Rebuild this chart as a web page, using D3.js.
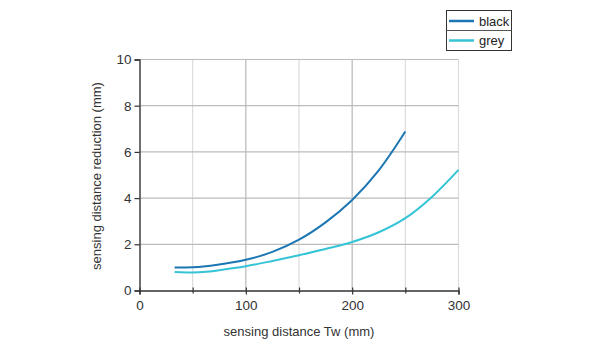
<!DOCTYPE html>
<html><head><meta charset="utf-8">
<script src="https://cdn.jsdelivr.net/npm/d3@7"></script>
<style>body{margin:0;background:#fff;font-family:"Liberation Sans",Arial,sans-serif;}</style>
</head><body>
<svg id="c" width="600" height="350"></svg>
<script>
const seriesNames = ["black", "grey"];
const seriesColors = ["#1b76b3", "#35c3d6"];
const blackX = [33, 50, 60, 75, 100, 125, 150, 175, 200, 225, 250];
const blackY = [1.0, 1.01, 1.04, 1.13, 1.33, 1.67, 2.2, 2.95, 3.92, 5.2, 6.88];
const greyX = [33, 50, 60, 75, 100, 125, 150, 175, 200, 225, 250, 275, 300];
const greyY = [0.8, 0.78, 0.8, 0.88, 1.05, 1.28, 1.53, 1.8, 2.1, 2.52, 3.13, 4.05, 5.22];
const xTicks = [0, 100, 200, 300];
const xMinorTicks = [50, 150, 250];
const yTicks = [0, 2, 4, 6, 8, 10];
const xTitle = "sensing distance Tw (mm)";
const yTitle = "sensing distance reduction (mm)";

const svg = d3.select("#c");
const L = 139.5, R = 458.5, T = 59.5, B = 290.5;
const x = d3.scaleLinear().domain([0, 300]).range([L, R]);
const y = d3.scaleLinear().domain([0, 10]).range([B, T]);

// grid
const g = svg.append("g");
[50,100,150,200,250,300].forEach(v => {
  g.append("line").attr("x1", x(v)).attr("x2", x(v)).attr("y1", T).attr("y2", B)
    .attr("stroke", (v===100||v===200) ? "#b8b8b8" : "#dcdcdc").attr("stroke-width", 1.2);
});
[2,4,6,8,10].forEach(v => {
  g.append("line").attr("x1", L).attr("x2", R).attr("y1", y(v)).attr("y2", y(v))
    .attr("stroke", "#bcbcbc").attr("stroke-width", 1.2);
});

// axes
svg.append("g").attr("transform", `translate(0,${B})`)
  .call(d3.axisBottom(x).tickValues(xTicks).tickSize(4).tickPadding(6).tickFormat(d3.format("d")));
svg.append("g").attr("transform", `translate(0,${B})`)
  .call(d3.axisBottom(x).tickValues(xMinorTicks).tickSize(3).tickFormat(""))
  .call(s => s.select(".domain").remove());
svg.append("g").attr("transform", `translate(0,${B})`)
  .call(d3.axisTop(x).tickValues(xTicks.concat(xMinorTicks)).tickSize(3).tickFormat(""))
  .call(s => s.select(".domain").remove());
svg.append("g").attr("transform", `translate(${L},0)`)
  .call(d3.axisLeft(y).tickValues(yTicks).tickSize(5).tickPadding(3));
svg.selectAll(".domain").attr("stroke", "#333").attr("stroke-width", 1.4);
svg.selectAll(".tick line").attr("stroke", "#333").attr("stroke-width", 1.2);
svg.selectAll(".tick text").attr("fill", "#333").style("font-size", "13.5px")
  .style("font-family", "Liberation Sans, Arial, sans-serif");

// titles
svg.append("text").attr("x", (L+R)/2).attr("y", 336).attr("text-anchor", "middle")
  .attr("fill", "#333").style("font-size", "13px").text(xTitle);
svg.append("text").attr("transform", `translate(101,${(T+B)/2+1}) rotate(-90)`)
  .attr("text-anchor", "middle").attr("fill", "#333").style("font-size", "13px").text(yTitle);

// lines
const data = [blackX.map((v,i)=>[v, blackY[i]]), greyX.map((v,i)=>[v, greyY[i]])];
const line = d3.line().x(d => x(d[0])).y(d => y(d[1])).curve(d3.curveCatmullRom.alpha(0.5));
data.forEach((d, i) => {
  svg.append("path").attr("d", line(d)).attr("fill", "none")
    .attr("stroke", seriesColors[i]).attr("stroke-width", 2);
});

// legend
const lg = svg.append("g");
lg.append("rect").attr("x", 446.5).attr("y", 10.5).attr("width", 65).attr("height", 40)
  .attr("fill", "#fff").attr("stroke", "#333").attr("stroke-width", 1);
lg.append("line").attr("x1", 446.5).attr("x2", 511.5).attr("y1", 30.5).attr("y2", 30.5)
  .attr("stroke", "#555").attr("stroke-width", 1);
seriesNames.forEach((n, i) => {
  const cy = 21 + i * 19.5;
  lg.append("line").attr("x1", 449).attr("x2", 474).attr("y1", cy).attr("y2", cy)
    .attr("stroke", seriesColors[i]).attr("stroke-width", 2.5);
  lg.append("text").attr("x", 479).attr("y", cy + 4.5).attr("fill", "#222")
    .style("font-size", "13px").text(n);
});
</script>
</body></html>
